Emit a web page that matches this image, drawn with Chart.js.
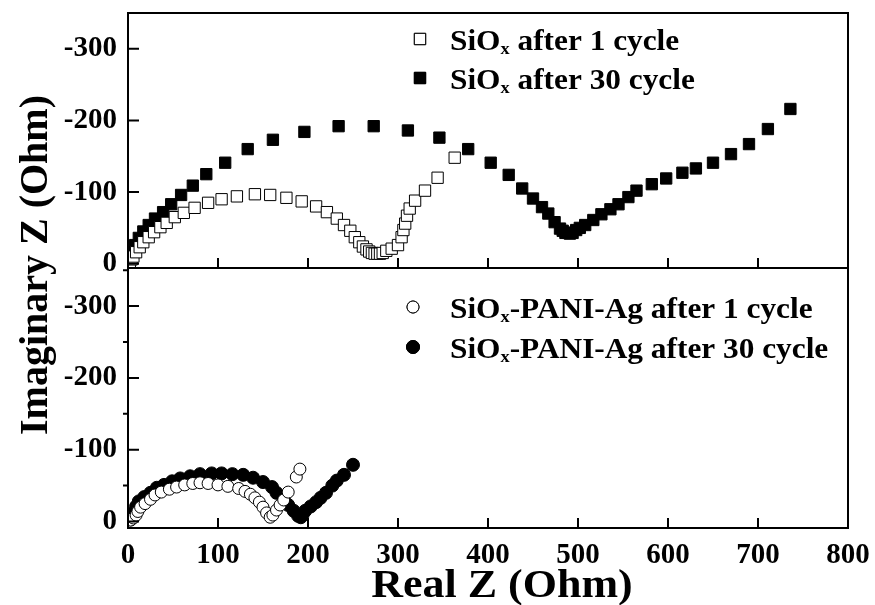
<!DOCTYPE html>
<html>
<head>
<meta charset="utf-8">
<script src="https://cdn.jsdelivr.net/npm/chart.js@4"></script>
<style>
    html, body { margin: 0; padding: 0; background: #fff; }
    #wrap { width: 875px; height: 605px; position: relative; }
</style>
</head>
<body>
<div id="wrap"><canvas id="nyquist" width="875" height="605"></canvas></div>
<script>
// ============================= data (Z' in Ohm, -Z'' in Ohm)

const seriesNames = [
    'SiO_x after 1 cycle',
    'SiO_x after 30 cycle',
    'SiO_x-PANI-Ag after 1 cycle',
    'SiO_x-PANI-Ag after 30 cycle'
]

const xTicks = [0, 100, 200, 300, 400, 500, 600, 700, 800]
const yTicks = [0, 100, 200, 300]
const yMinorTicks = [50, 150, 250, 350]

// SiOx after 1 cycle (open squares)
const sio1Re = [2, 4, 6, 9, 13, 17, 23, 29, 36, 43, 52, 62, 74, 89, 104, 121, 141, 158, 176, 193, 209, 221, 232, 240, 247, 252, 257, 261, 265, 268, 271, 274, 277, 280, 283, 287, 293, 300, 304, 306, 308, 310, 313, 319, 330, 344, 363]
const sio1Im = [2, 6, 10, 16, 23, 30, 37, 44, 51, 57, 65, 71, 78, 85, 90, 94, 97, 96, 92, 87, 80, 72, 63, 54, 46, 37, 30, 24, 20, 17, 15, 14, 14, 14, 15, 18, 21, 26, 37, 47, 56, 67, 77, 88, 102, 120, 148]

// SiOx after 30 cycle (filled squares)
const sio30Re = [2, 5, 8, 12, 17, 23, 30, 39, 48, 59, 72, 87, 108, 133, 161, 196, 234, 273, 311, 346, 378, 403, 423, 438, 450, 460, 467, 474, 480, 483, 486, 489, 491, 494, 498, 502, 508, 517, 526, 536, 545, 556, 565, 582, 598, 616, 631, 650, 670, 690, 711, 736]
const sio30Im = [6, 16, 26, 36, 45, 54, 63, 72, 83, 96, 109, 125, 141, 160, 173, 184, 192, 192, 186, 176, 160, 141, 124, 105, 91, 79, 70, 58, 49, 46, 43, 43, 42, 43, 47, 50, 54, 61, 69, 76, 83, 93, 102, 111, 119, 127, 133, 141, 153, 167, 188, 216]

// SiOx-PANI-Ag after 1 cycle (open circles)
const pani1Re = [3, 6, 9, 11, 14, 19, 25, 30, 37, 46, 54, 63, 72, 80, 89, 100, 111, 123, 130, 136, 141, 146, 150, 154, 158, 161, 165, 169, 173, 178, 187, 191]
const pani1Im = [2, 5, 9, 14, 20, 25, 31, 37, 41, 45, 48, 51, 53, 54, 53, 51, 49, 46, 42, 38, 33, 27, 20, 12, 6, 9, 16, 23, 30, 41, 62, 73]

// SiOx-PANI-Ag after 30 cycle (filled circles)
const pani30Re = [3, 6, 9, 12, 18, 25, 32, 40, 49, 58, 69, 80, 93, 104, 116, 128, 139, 150, 160, 165, 173, 178, 184, 189, 192, 194, 197, 203, 209, 214, 220, 227, 232, 240, 250]
const pani30Im = [3, 12, 21, 28, 34, 40, 47, 51, 56, 60, 63, 66, 67, 67, 66, 65, 61, 55, 48, 40, 32, 23, 15, 8, 6, 9, 15, 21, 27, 33, 40, 50, 57, 65, 79]

const toPoints = (xs, ys) => xs.map((x, i) => ({ x: x, y: ys[i] }))

// ============================= shared styling

const FONT = '"Liberation Serif", "Times New Roman", serif'
Chart.defaults.color = '#000'

const tickLabel = v => v === 0 ? '0' : '-' + v

const yAxis = (stackWeight, weight, min, max) => ({
    type: 'linear',
    position: 'left',
    stack: 'panels',
    stackWeight: stackWeight,
    weight: weight,
    min: min,
    max: max,
    grid: { display: false, drawTicks: false },
    border: { display: false },
    afterBuildTicks: s => { s.ticks = yTicks.map(v => ({ value: v })) },
    afterFit: s => { s.width = 128; s.paddingTop = 0; s.paddingBottom = 0 },
    ticks: {
        padding: 11,
        font: { family: FONT, size: 29, weight: 'bold' },
        callback: tickLabel
    }
})

// draws a label where "_x" becomes a subscript x
const drawRich = (ctx, text, x, y, size, stretch) => {
    const parts = text.split('_x')
    ctx.save()
    ctx.translate(x, y)
    ctx.scale(stretch, 1)
    ctx.textAlign = 'left'
    ctx.textBaseline = 'alphabetic'
    let cx = 0
    parts.forEach((p, i) => {
        ctx.font = `bold ${size}px ${FONT}`
        ctx.fillText(p, cx, 0)
        cx += ctx.measureText(p).width
        if (i < parts.length - 1) {
            ctx.font = `bold ${Math.round(size * 0.6)}px ${FONT}`
            ctx.fillText('x', cx, 4)
            cx += ctx.measureText('x').width
        }
    })
    ctx.restore()
}

const drawMarker = (ctx, ds, x, y) => {
    ctx.save()
    ctx.fillStyle = ds.pointBackgroundColor
    ctx.strokeStyle = ds.pointBorderColor
    ctx.lineWidth = 1
    Chart.helpers.drawPoint(ctx, { pointStyle: ds.pointStyle, radius: ds.pointRadius, borderWidth: 1 }, x, y)
    ctx.fill()
    ctx.stroke()
    ctx.restore()
}

// ============================= frame, inward ticks, legends, axis titles

const framePlugin = {
    id: 'frame',
    afterDraw(chart) {
        const { ctx, scales: { x, yTop, yBot } } = chart
        ctx.save()
        ctx.strokeStyle = '#000'
        ctx.lineWidth = 2

        ;[yTop, yBot].forEach(y => {
            ctx.strokeRect(x.left, y.top, x.right - x.left, y.bottom - y.top)
            ctx.beginPath()
            xTicks.slice(1, -1).forEach(v => {
                const px = x.getPixelForValue(v)
                ctx.moveTo(px, y.bottom)
                ctx.lineTo(px, y.bottom - 10)
            })
            yTicks.forEach(v => {
                const py = y.getPixelForValue(v)
                ctx.moveTo(x.left, py)
                ctx.lineTo(x.left + 11, py)
            })
            ctx.stroke()
        })

        // small outward ticks on the lower panel
        ctx.beginPath()
        yMinorTicks.forEach(v => {
            const py = yBot.getPixelForValue(v)
            ctx.moveTo(x.left, py)
            ctx.lineTo(x.left - 5, py)
        })
        ctx.stroke()

        // legends
        const ds = chart.data.datasets
        const legendRows = [
            { i: 0, y: yTop.top + 26 }, { i: 1, y: yTop.top + 65 },
            { i: 2, y: yBot.top + 39 }, { i: 3, y: yBot.top + 79 }
        ]
        ctx.fillStyle = '#000'
        legendRows.forEach(r => {
            const mx = r.i < 2 ? 420 : 413
            drawMarker(ctx, ds[r.i], mx, r.y)
            drawRich(ctx, ds[r.i].label, 450, r.y + 11, 29, 1.08)
        })

        // axis titles
        ctx.font = `bold 40px ${FONT}`
        ctx.textAlign = 'center'
        ctx.textBaseline = 'alphabetic'
        ctx.save()
        ctx.translate(502, 597)
        ctx.scale(1.1, 1)
        ctx.fillText('Real Z (Ohm)', 0, 0)
        ctx.restore()

        ctx.save()
        ctx.translate(47, 265)
        ctx.rotate(-Math.PI / 2)
        ctx.fillText('Imaginary Z (Ohm)', 0, 0)
        ctx.restore()

        ctx.restore()
    }
}

// ============================= chart

const openStyle = { pointBackgroundColor: '#fff', pointBorderColor: '#000' }
const fillStyle = { pointBackgroundColor: '#000', pointBorderColor: '#000' }

new Chart(document.getElementById('nyquist'), {
    type: 'scatter',
    data: {
        datasets: [
            { label: seriesNames[0], data: toPoints(sio1Re, sio1Im), yAxisID: 'yTop', pointStyle: 'rect', pointRadius: 8, pointBorderWidth: 1, ...openStyle },
            { label: seriesNames[1], data: toPoints(sio30Re, sio30Im), yAxisID: 'yTop', pointStyle: 'rect', pointRadius: 8, pointBorderWidth: 1, ...fillStyle },
            { label: seriesNames[2], data: toPoints(pani1Re, pani1Im), yAxisID: 'yBot', pointStyle: 'circle', pointRadius: 6, pointBorderWidth: 1, ...openStyle },
            { label: seriesNames[3], data: toPoints(pani30Re, pani30Im), yAxisID: 'yBot', pointStyle: 'circle', pointRadius: 6.5, pointBorderWidth: 1, ...fillStyle }
        ]
    },
    options: {
        responsive: false,
        animation: false,
        layout: { padding: { top: 13, right: 27, left: 0, bottom: 0 } },
        plugins: {
            legend: { display: false },
            tooltip: { enabled: false }
        },
        scales: {
            x: {
                type: 'linear',
                position: 'bottom',
                min: 0,
                max: 800,
                grid: { display: false, drawTicks: false },
                border: { display: false },
                afterBuildTicks: s => { s.ticks = xTicks.map(v => ({ value: v })) },
                afterFit: s => { s.height = 77; s.paddingLeft = 0; s.paddingRight = 0 },
                ticks: {
                    padding: 10,
                    maxRotation: 0,
                    autoSkip: false,
                    font: { family: FONT, size: 29, weight: 'bold' }
                }
            },
            yTop: yAxis(255, 1, -6, 350),
            yBot: yAxis(260, 0, -9, 353)
        }
    },
    plugins: [framePlugin]
})
</script>
</body>
</html>
